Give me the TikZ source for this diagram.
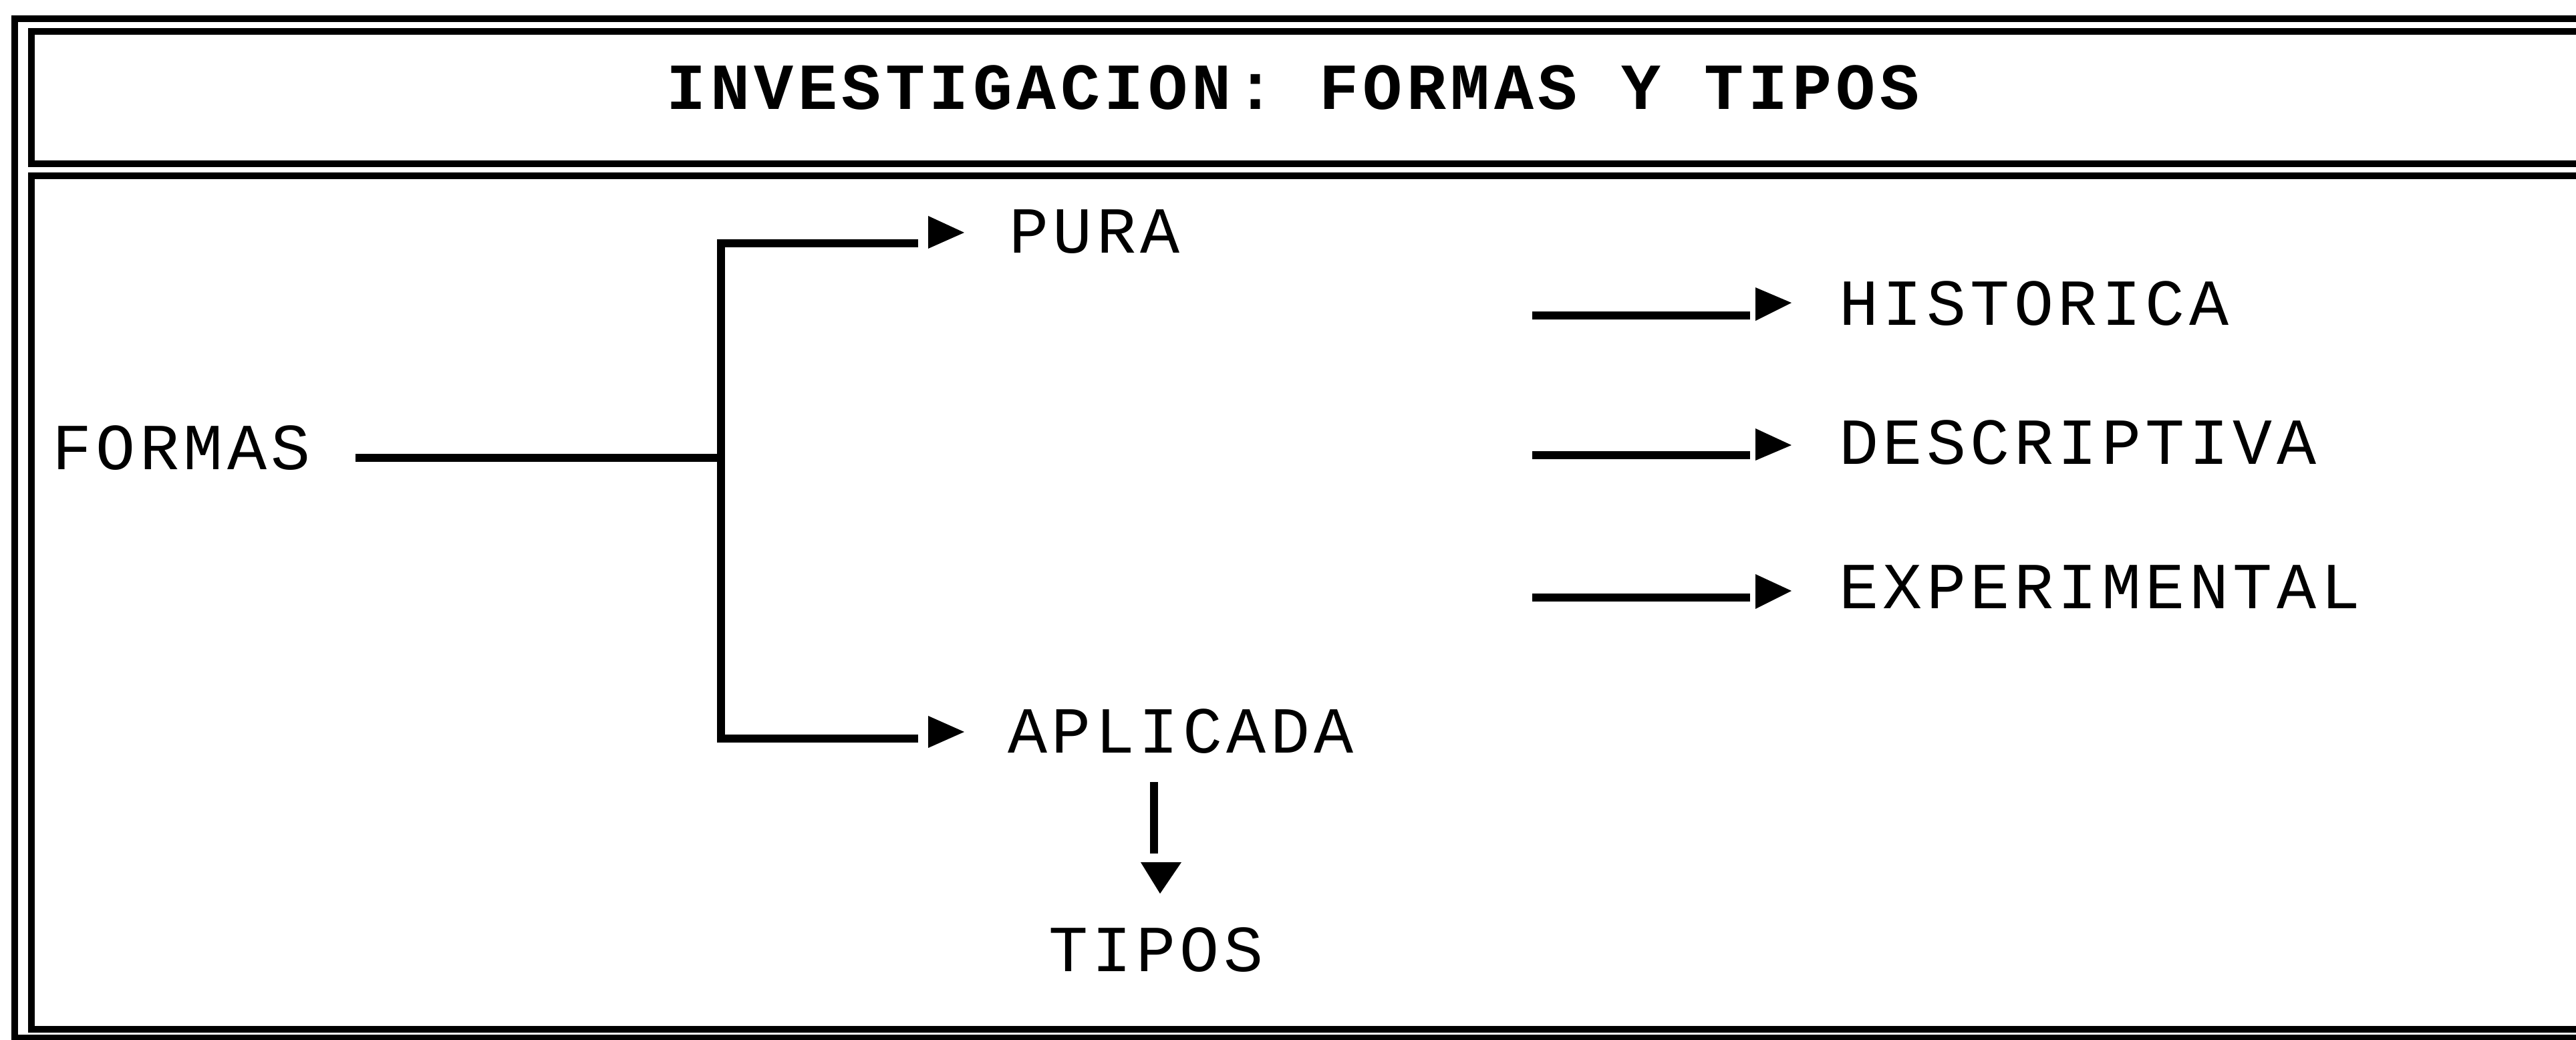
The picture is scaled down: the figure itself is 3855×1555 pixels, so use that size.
\documentclass[tikz,border=0pt]{standalone}
\usepackage{fontspec}
\newfontfamily\dotfont[LetterSpace=6.6]{Liberation Mono}
\begin{document}
\begin{tikzpicture}[x=0.25pt,y=-0.25pt,line width=2.6pt,
  lbl/.style={font=\dotfont\fontsize{24.6pt}{26pt}\selectfont, inner sep=0pt, anchor=base west},
  ttl/.style={font=\dotfont\bfseries\fontsize{24.6pt}{26pt}\selectfont, inner sep=0pt, anchor=base},
  frame/.style={line width=2.5pt},
  link/.style={line width=2.8pt},
  tip/.style={fill=black}]
\useasboundingbox (0,0) rectangle (3855,1555);
\clip (0,0) rectangle (3855,1555);
% double frames
\draw[frame] (3900,28) -- (22,28) -- (22,1553) -- (3900,1553);
\draw[frame] (3900,47) -- (47,47) -- (47,245) -- (3900,245);
\draw[frame] (3900,263) -- (47,263) -- (47,1540) -- (3900,1540);
% texts
\node[ttl] (title) at (1935,163) {INVESTIGACION: FORMAS Y TIPOS};
\node[lbl] (formas) at (73,702) {FORMAS};
\node[lbl] (pura) at (1505,378) {PURA};
\node[lbl] (aplicada) at (1503,1126) {APLICADA};
\node[lbl,anchor=base] (tipos) at (1730,1453) {TIPOS};
\node[lbl] (historica) at (2747,486) {HISTORICA};
\node[lbl] (descriptiva) at (2747,694) {DESCRIPTIVA};
\node[lbl] (experimental) at (2747,910) {EXPERIMENTAL};
% tree
\coordinate (fstart) at (532,685);
\coordinate (j) at (1079,685);
\coordinate (jt) at (1079,364);
\coordinate (jb) at (1079,1105);
\coordinate (pend) at (1374,364);
\coordinate (aend) at (1374,1105);
\draw[link] (fstart) -- (j);
\draw[link] (pend) -- (jt) -- (jb) -- (aend);
\fill[tip] (1389,323) -- (1389,372) -- (1443,348) -- cycle;
\fill[tip] (1389,1071) -- (1389,1119) -- (1443,1095) -- cycle;
% down arrow to TIPOS
\coordinate (dstart) at (1727,1170);
\coordinate (dend) at (1727,1277);
\draw[link] (dstart) -- (dend);
\fill[tip] (1707,1290) -- (1768,1290) -- (1736,1337) -- cycle;
% right arrows
\coordinate (h0) at (2293,472); \coordinate (h1) at (2619,472);
\coordinate (d0) at (2293,681); \coordinate (d1) at (2619,681);
\coordinate (e0) at (2293,894); \coordinate (e1) at (2619,894);
\draw[link] (h0) -- (h1);
\draw[link] (d0) -- (d1);
\draw[link] (e0) -- (e1);
\fill[tip] (2627,430) -- (2627,480) -- (2681,453) -- cycle;
\fill[tip] (2627,641) -- (2627,689) -- (2681,666) -- cycle;
\fill[tip] (2627,859) -- (2627,911) -- (2681,884) -- cycle;
\end{tikzpicture}
\end{document}
